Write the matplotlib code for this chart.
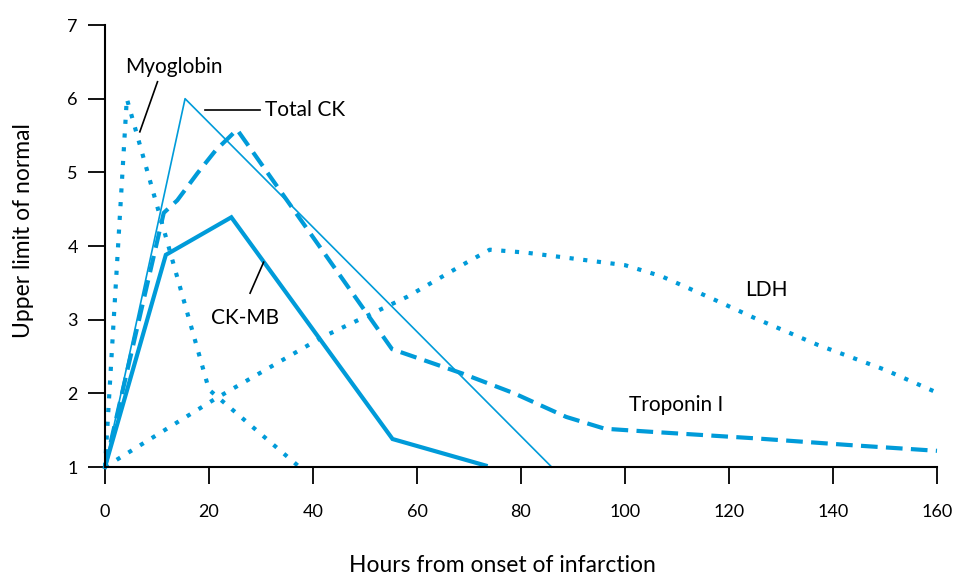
import matplotlib.pyplot as plt

# Cardiac marker curves (hours vs. multiples of upper limit of normal)
myo_h = [0, 4.2, 20, 37.4]
myo_v = [1, 6.0, 2.05, 1]

ck_h = [0, 15.4, 85.9]
ck_v = [1, 6.0, 1]

ckmb_h = [0, 11.7, 24.3, 55.3, 73.2]
ckmb_v = [1, 3.88, 4.39, 1.38, 1.02]

trop_h = [0, 11.3, 13.9, 17.8, 21.3, 25.4, 55.2, 68.7, 78.7, 88.7, 96.1, 104.6, 124.9, 142.8, 160]
trop_v = [1, 4.45, 4.62, 4.99, 5.30, 5.58, 2.60, 2.27, 2.00, 1.68, 1.52, 1.48, 1.39, 1.30, 1.22]

ldh_h = [0, 21.3, 41.7, 58.1, 69.4, 74.0, 81.0, 90.0, 100.0, 107.0, 116.0, 125.0, 137.0, 150.0, 160]
ldh_v = [1, 1.93, 2.76, 3.31, 3.77, 3.95, 3.91, 3.83, 3.74, 3.59, 3.31, 3.02, 2.66, 2.32, 2.01]

xticks = [0, 20, 40, 60, 80, 100, 120, 140, 160]
yticks = [1, 2, 3, 4, 5, 6, 7]

blue = '#009bd9'
plt.rcParams['font.family'] = ['Lato', 'DejaVu Sans']

fig = plt.figure(figsize=(9.57, 5.79), dpi=100)
ax = fig.add_axes([0.1097, 0.1934, 0.8694, 0.7634])

ax.plot(ldh_h, ldh_v, color=blue, lw=3, dashes=(1, 2.3), clip_on=False)
ax.plot(myo_h, myo_v, color=blue, lw=3, dashes=(1, 2.3), clip_on=False)
ax.plot(trop_h, trop_v, color=blue, lw=3, dashes=(4, 2), clip_on=False)
ax.plot(ck_h, ck_v, color=blue, lw=1.2, clip_on=False)
ax.plot(ckmb_h, ckmb_v, color=blue, lw=3, solid_joinstyle='miter', clip_on=False)

# curve names, some with a short leader line
lead = dict(color='black', lw=1.2)
ax.plot([6.7, 10.1], [5.55, 6.23], **lead)
ax.text(13.2, 6.43, 'Myoglobin', fontsize=15, ha='center', va='center')
ax.plot([19.3, 29.8], [5.84, 5.84], **lead)
ax.text(30.8, 5.84, 'Total CK', fontsize=15, ha='left', va='center')
ax.plot([27.9, 30.5], [3.36, 3.78], **lead)
ax.text(27.0, 3.02, 'CK-MB', fontsize=15, ha='center', va='center')
ax.text(127.2, 3.40, 'LDH', fontsize=15, ha='center', va='center')
ax.text(109.9, 1.84, 'Troponin I', fontsize=15, ha='center', va='center')

ax.set_xlim(0, 160)
ax.set_ylim(1, 7)
ax.set_xticks(xticks)
ax.set_yticks(yticks)
ax.spines[['top', 'right']].set_visible(False)
ax.spines[['left', 'bottom']].set_linewidth(1.5)
ax.tick_params(axis='both', length=12.5, width=1.3, labelsize=13)
ax.tick_params(axis='x', pad=14)
ax.tick_params(axis='y', pad=7)
ax.yaxis.get_major_ticks()[0].tick1line.set_color(blue)

ax.set_xlabel('Hours from onset of infarction', fontsize=16.5)
ax.set_ylabel('Upper limit of normal', fontsize=16.5)
ax.xaxis.set_label_coords(0.478, -0.199)
ax.yaxis.set_label_coords(-0.085, 0.536)

fig.savefig('out.png', dpi=100)
